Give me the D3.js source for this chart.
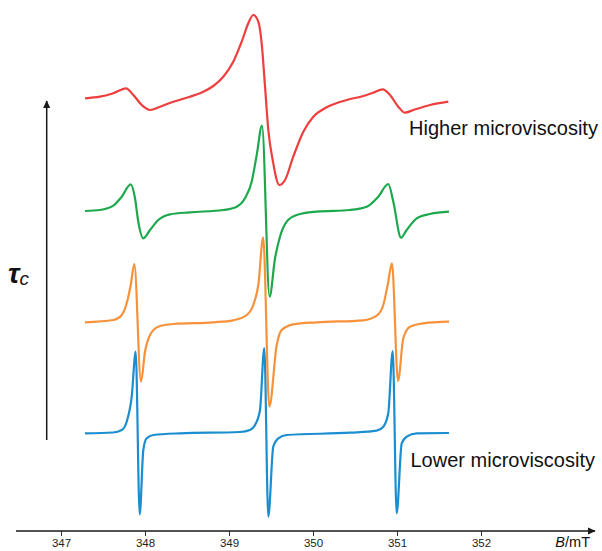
<!DOCTYPE html>
<html>
<head>
<meta charset="utf-8">
<script src="https://cdn.jsdelivr.net/npm/d3@7"></script>
<style>
  html, body { margin: 0; padding: 0; background: #fff; }
  svg { display: block; }
  text { font-family: "Liberation Sans", Arial, Helvetica, sans-serif; }
</style>
</head>
<body>
<div id="chart"></div>
<script>
// ---- data (B in mT, signal in arbitrary units relative to each trace's baseline) ----
const tickValues = [347, 348, 349, 350, 351, 352];
const seriesNames = ["Lower microviscosity", "orange", "green", "Higher microviscosity"];
const seriesColors = ["#1b8ed0", "#f7913a", "#1ca84c", "#ef3e3e"];
const seriesOffsets = [9.8, 20.9, 32.0, 43.0];

const blue = [
  [347.286, -0.03], [347.619, 0.05], [347.723, 0.3], [347.782, 1.13], [347.842, 3.63],
  [347.889, 8.13], [347.937, -8.13], [347.980, -1.7], [348.020, -0.53], [348.099, -0.2],
  [348.417, -0.03], [349.131, 0.1], [349.250, 0.3], [349.310, 0.8], [349.369, 2.3],
  [349.420, 8.5], [349.468, -8.37], [349.527, -1.37], [349.587, -0.53], [349.687, -0.2],
  [350.440, 0.03], [350.758, 0.23], [350.837, 0.63], [350.896, 1.97], [350.949, 8.2],
  [350.996, -8.03], [351.056, -1.03], [351.115, -0.37], [351.235, -0.03], [351.619, 0]
];
const orange = [
  [347.286, -0.03], [347.623, 0.2], [347.723, 0.7], [347.782, 1.87], [347.830, 3.7],
  [347.873, 5.8], [347.952, -5.97], [348.000, -2.97], [348.060, -1.3], [348.158, -0.47],
  [348.337, -0.2], [348.813, -0.03], [349.051, 0.17], [349.211, 0.7], [349.289, 1.7],
  [349.349, 3.7], [349.407, 8.47], [349.480, -8.47], [349.568, -2.3], [349.627, -0.8],
  [349.765, -0.23], [350.044, -0.03], [350.599, 0.17], [350.758, 0.63], [350.837, 1.7],
  [350.889, 3.7], [350.940, 5.87], [351.012, -5.9], [351.075, -1.63], [351.155, -0.47],
  [351.313, -0.13], [351.619, 0.03]
];
const green = [
  [347.286, 0], [347.464, 0.1], [347.623, 0.53], [347.723, 1.43], [347.830, 2.67],
  [347.881, 1.27], [347.920, -1.07], [347.980, -2.73], [348.060, -1.9], [348.158, -0.9],
  [348.298, -0.33], [348.536, -0.13], [348.932, 0.1], [349.092, 0.43], [349.190, 1.27],
  [349.270, 2.93], [349.330, 5.6], [349.393, 8.53], [349.483, -8.57], [349.548, -4.73],
  [349.607, -2.57], [349.687, -1.07], [349.806, -0.4], [350.044, -0.07], [350.440, 0.1],
  [350.639, 0.43], [350.777, 1.43], [350.896, 2.7], [350.956, 0.93], [351.048, -2.67],
  [351.115, -1.9], [351.235, -0.73], [351.393, -0.3], [351.619, -0.07]
];
const red = [
  [347.286, 0.27], [347.464, 0.43], [347.623, 0.77], [347.774, 1.27], [347.861, 0.6],
  [347.961, -0.4], [348.060, -0.9], [348.179, -0.57], [348.337, -0.07], [348.536, 0.43],
  [348.694, 0.93], [348.813, 1.5], [348.932, 2.43], [349.051, 3.93], [349.151, 5.93],
  [349.230, 7.77], [349.289, 8.6], [349.349, 7.93], [349.389, 5.77], [349.429, 1.43],
  [349.468, -2.9], [349.520, -5.9], [349.599, -8.4], [349.667, -7.9], [349.765, -5.57],
  [349.885, -3.07], [350.004, -1.57], [350.163, -0.63], [350.401, 0.1], [350.599, 0.5],
  [350.718, 0.83], [350.830, 1.17], [350.917, 0.6], [351.015, -0.57], [351.095, -1.17],
  [351.194, -0.9], [351.393, -0.4], [351.611, -0.07]
];
const seriesData = [blue, orange, green, red];

// ---- drawing ----
const W = 602, H = 551;
const svg = d3.select("#chart").append("svg").attr("width", W).attr("height", H);

const x = d3.scaleLinear().domain([347, 352]).range([61, 481]);
const y = d3.scaleLinear().domain([0, 53]).range([531, 1]);
const axisY = y(0);

const defs = svg.append("defs");
defs.append("marker").attr("id", "arr")
  .attr("viewBox", "0 0 10 10").attr("refX", 9).attr("refY", 5)
  .attr("markerWidth", 8).attr("markerHeight", 8).attr("markerUnits", "userSpaceOnUse")
  .attr("orient", "auto")
  .append("path").attr("d", "M0,0.5 L10,5 L0,9.5 Z").attr("fill", "#1a1a1a");

// traces
const line = d3.line().x(d => x(d[0])).curve(d3.curveMonotoneX);
seriesData.forEach((data, i) => {
  svg.append("path")
    .datum(data)
    .attr("fill", "none")
    .attr("stroke", seriesColors[i])
    .attr("stroke-width", 2.2)
    .attr("stroke-linejoin", "round")
    .attr("d", line.y(d => y(seriesOffsets[i] + d[1])));
});

// bottom axis
const axis = d3.axisBottom(x).tickValues(tickValues).tickSize(5).tickPadding(3)
  .tickFormat(d3.format("d"));
const gAxis = svg.append("g").attr("transform", `translate(0,${axisY})`).call(axis);
gAxis.select(".domain").remove();
gAxis.selectAll(".tick line").attr("stroke", "#333").attr("stroke-width", 1);
gAxis.selectAll(".tick text").attr("font-size", 11.5).attr("fill", "#222")
  .attr("font-family", "Liberation Sans, Arial, sans-serif");

svg.append("line")
  .attr("x1", 16).attr("x2", 595).attr("y1", axisY).attr("y2", axisY)
  .attr("stroke", "#1a1a1a").attr("stroke-width", 1.4).attr("marker-end", "url(#arr)");

const bl = svg.append("text").attr("x", 590).attr("y", 547).attr("text-anchor", "end")
  .attr("font-size", 14.5).attr("fill", "#111");
bl.append("tspan").attr("font-style", "italic").text("B");
bl.append("tspan").text("/mT");

// vertical tau_c arrow
svg.append("line")
  .attr("x1", 46.7).attr("x2", 46.7).attr("y1", 440).attr("y2", 101)
  .attr("stroke", "#1a1a1a").attr("stroke-width", 1.5).attr("marker-end", "url(#arr)");

const tau = svg.append("text").attr("x", 8).attr("y", 283)
  .attr("font-family", "DejaVu Serif, serif").attr("font-style", "italic").attr("fill", "#111");
tau.append("tspan").attr("font-size", 28).attr("font-weight", "bold").text("τ");
tau.append("tspan").attr("font-size", 19).attr("dy", 2).text("c");

// annotations
svg.append("text").attr("x", 409).attr("y", 135).attr("font-size", 20).attr("fill", "#111")
  .text("Higher microviscosity");
svg.append("text").attr("x", 410.5).attr("y", 466.7).attr("font-size", 20).attr("fill", "#111")
  .text("Lower microviscosity");
</script>
</body>
</html>
